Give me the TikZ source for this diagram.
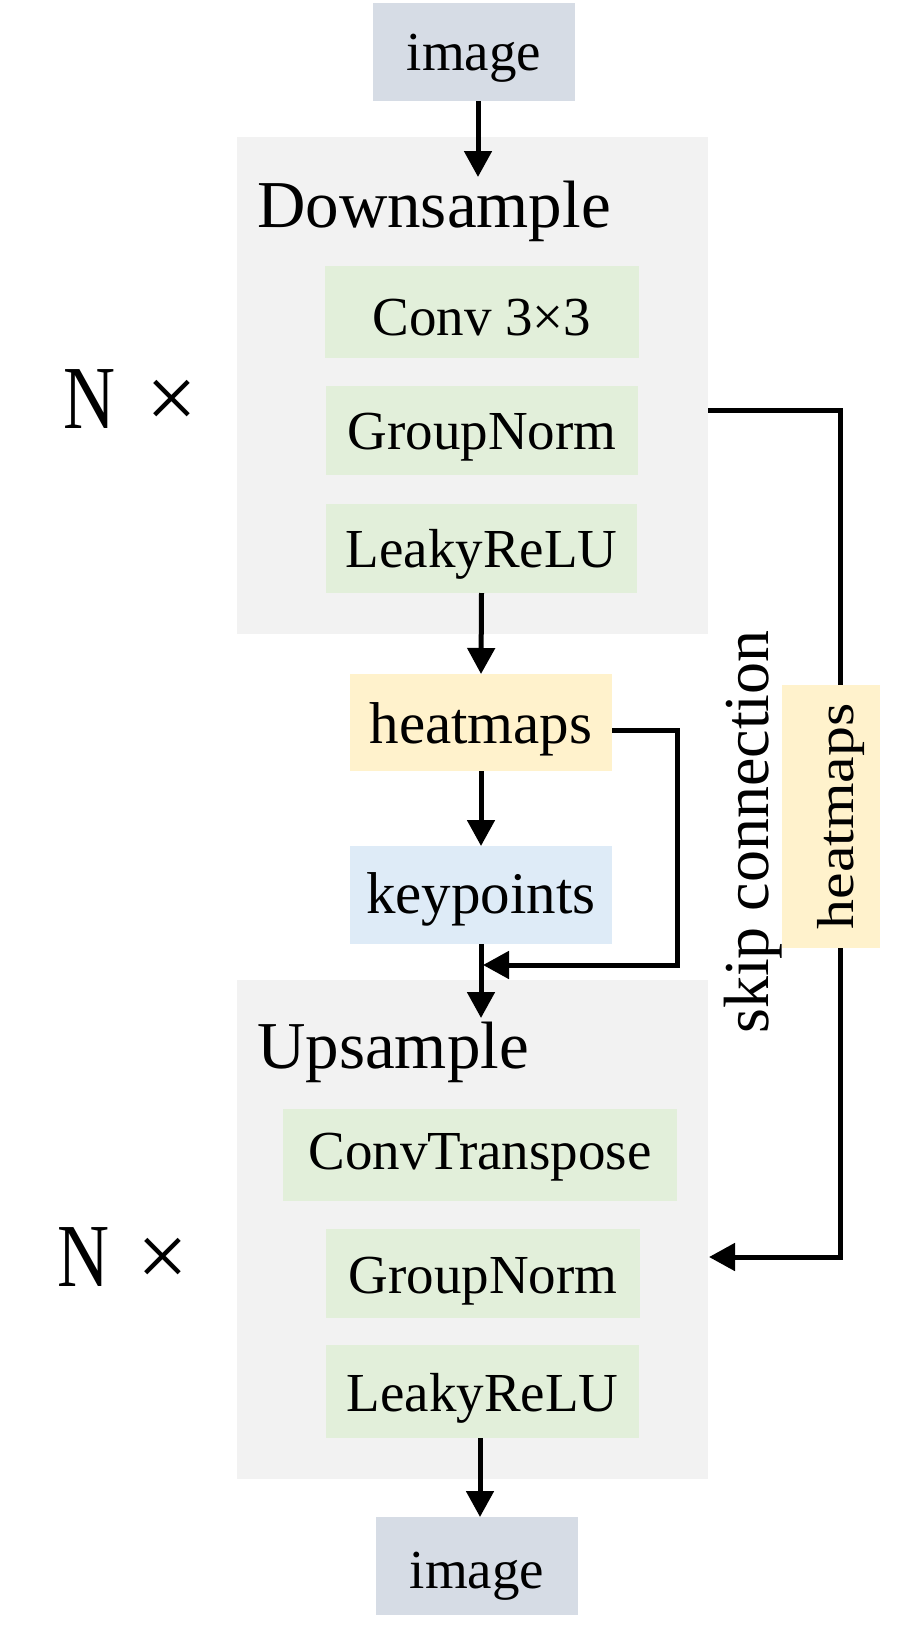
\documentclass[tikz,border=0pt]{standalone}
\usepackage{fontspec}
\setmainfont{Liberation Serif}
\usetikzlibrary{arrows.meta}
\definecolor{imgc}{HTML}{D6DCE5}
\definecolor{grnc}{HTML}{E2EFDA}
\definecolor{yelc}{HTML}{FFF2CC}
\definecolor{bluc}{HTML}{DEEBF7}
\definecolor{pnlc}{HTML}{F2F2F2}
\tikzset{
  box/.style={inner sep=0pt, outer sep=0pt, text depth=0pt},
  panelbox/.style={box, fill=pnlc},
  opbox/.style={box, fill=grnc, font=\fontsize{55pt}{60pt}\selectfont},
  imgbox/.style={box, fill=imgc, font=\fontsize{55pt}{60pt}\selectfont, minimum width=202pt, minimum height=98pt},
  databox/.style={box, font=\fontsize{59pt}{64pt}\selectfont, minimum width=262pt},
  title/.style={anchor=base west, inner sep=0pt, font=\fontsize{67pt}{72pt}\selectfont},
  nlab/.style={anchor=base west, inner sep=0pt, font=\fontsize{90pt}{96pt}\selectfont},
  conn/.style={line width=5pt},
  arr/.style={conn, -{Triangle[length=26pt,width=27pt]}},
}
\begin{document}
\begin{tikzpicture}[x=1pt, y=-1pt]
\useasboundingbox (0,0) rectangle (901,1633);

% panels
\node[panelbox, minimum width=471pt, minimum height=497pt] (down) at (472.5,385.5) {};
\node[panelbox, minimum width=471pt, minimum height=499pt] (up) at (472.5,1229.5) {};

\node[title] (dlab) at (257,227) {Downsample};
\node[title] (ulab) at (257,1068) {Upsample};

% N x labels
\node[nlab] (n1) at (63,428) {\scalebox{0.8}[1]{N}\hspace{31pt}×};
\node[nlab] (n2) at (57,1286) {\scalebox{0.8}[1]{N}\hspace{28pt}×};

% boxes
\node[imgbox, text height=36pt] (img1) at (474,52) {image};
\node[opbox, minimum width=314pt, minimum height=92pt, text height=46pt] (conv) at (482,312) {Conv 3×3};
\node[opbox, minimum width=312pt, minimum height=89pt, text height=38pt] (gn1) at (482,430.5) {GroupNorm};
\node[opbox, minimum width=311pt, minimum height=89pt, text height=38pt] (lr1) at (481.5,548.5) {LeakyReLU};
\node[databox, fill=yelc, minimum height=97pt, text height=42pt] (hm) at (481,722.5) {heatmaps};
\node[databox, fill=bluc, minimum height=98pt, text height=36pt] (kp) at (481,895) {keypoints};
\node[opbox, minimum width=394pt, minimum height=92pt, text height=28pt] (ct) at (480,1155) {ConvTranspose};
\node[opbox, minimum width=314pt, minimum height=89pt, text height=39pt] (gn2) at (483,1273.5) {GroupNorm};
\node[opbox, minimum width=313pt, minimum height=93pt, text height=39pt] (lr2) at (482.5,1391.5) {LeakyReLU};
\node[imgbox, text height=44pt] (img2) at (477,1566) {image};

% skip connection side
\node[box, fill=yelc, rotate=90, minimum width=263pt, minimum height=98pt, text height=44pt,
      font=\fontsize{52pt}{56pt}\selectfont] (hm2) at (831,816.5) {\scalebox{1.15}[1]{heatmaps}};
\node[rotate=90, anchor=base, inner sep=0pt, font=\fontsize{64pt}{68pt}\selectfont] (skl) at (768,832) {skip connection};

% coordinates for arrow tips / bends
\coordinate (ta) at (478,177);
\coordinate (tb) at (481,1018);
\coordinate (tc) at (480,0);
\coordinate (fb1) at (677,730.5);
\coordinate (fb2) at (677,965);
\coordinate (fbt) at (483,965);
\coordinate (s1) at (708,410);
\coordinate (s2) at (840,410);
\coordinate (s3) at (840,685);
\coordinate (s4) at (840,948);
\coordinate (s5) at (840,1257);
\coordinate (st) at (709,1257);

% arrows
\draw[arr] (img1.south -| ta) -- (ta);
\draw[arr] (lr1.south) -- (hm.north);
\draw[arr] (hm.south) -- (kp.north);
\draw[arr] (kp.south) -- (tb);
\draw[arr] (lr2.south -| tc) -- (img2.north -| tc);
\draw[arr] (hm.east |- fb1) -- (fb1) -- (fb2) -- (fbt);
\draw[conn] (s1) -- (s2) -- (s3);
\draw[arr] (s4) -- (s5) -- (st);
\end{tikzpicture}
\end{document}
